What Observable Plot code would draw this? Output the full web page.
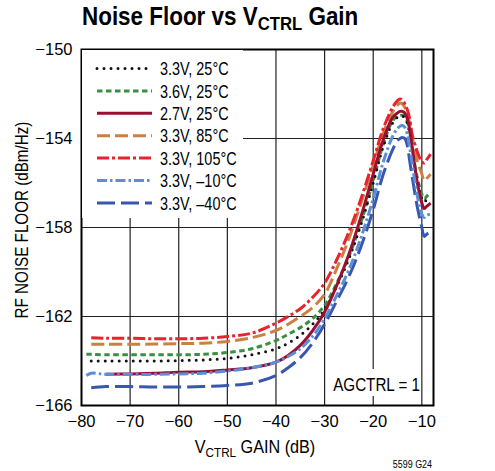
<!DOCTYPE html>
<html>
<head>
<meta charset="utf-8">
<script src="https://cdn.jsdelivr.net/npm/d3@7"></script>
<script src="https://cdn.jsdelivr.net/npm/@observablehq/plot@0.6"></script>
<style>
  body { margin: 0; background: #fff; }
  #chart { width: 495px; height: 471px; }
</style>
</head>
<body>
<div id="chart"></div>
<script>
const FONT = "'Liberation Sans','Arimo',Arial,sans-serif";

// VCTRL gain (dB) sample points
const gain = [-79, -78, -75, -70, -65, -60, -55, -50, -45, -40, -37.5, -35, -32.5, -30, -27.5, -25, -22.5, -20, -18, -16, -15, -14.5, -14, -13.5, -13, -12.5, -12, -11, -10, -9.5, -9, -8.2];

// RF noise floor (dBm/Hz) per condition
const v33_25C  = [null, -164.0, -164.0, -164.0, -164.0, -163.98, -163.95, -163.88, -163.72, -163.45, -163.2, -162.85, -162.35, -161.7, -160.65, -159.4, -157.85, -156.0, -154.4, -153.3, -153.05, -153.0, -153.0, -153.05, -153.3, -153.75, -154.45, -155.8, -156.7, -156.85, -156.75, -156.6];
const v36_25C  = [-163.7, -163.7, -163.72, -163.72, -163.72, -163.72, -163.7, -163.62, -163.45, -163.08, -162.8, -162.5, -162.1, -161.5, -160.5, -159.3, -157.75, -155.9, -154.3, -153.2, -153.0, -152.97, -152.95, -153.0, -153.25, -153.7, -154.4, -155.7, -156.5, -156.7, -156.6, -156.4];
const v27_25C  = [null, null, -164.6, -164.58, -164.55, -164.5, -164.48, -164.4, -164.3, -164.05, -163.75, -163.3, -162.65, -161.8, -160.6, -159.2, -157.5, -155.6, -154.1, -153.05, -152.85, -152.78, -152.78, -152.85, -153.1, -153.6, -154.4, -155.9, -156.9, -157.15, -157.05, -156.9];
const v33_85C  = [null, -163.25, -163.25, -163.25, -163.24, -163.22, -163.2, -163.12, -162.95, -162.63, -162.35, -162.0, -161.6, -161.0, -159.85, -158.5, -156.9, -155.2, -153.8, -152.8, -152.5, -152.4, -152.45, -152.6, -152.9, -153.3, -153.9, -154.95, -155.6, -155.9, -155.8, -155.6];
const v33_105C = [null, -162.95, -162.98, -162.98, -163.0, -163.0, -162.98, -162.9, -162.75, -162.3, -162.0, -161.65, -161.15, -160.5, -159.45, -158.2, -156.7, -155.0, -153.6, -152.6, -152.3, -152.22, -152.28, -152.45, -152.7, -153.1, -153.8, -154.55, -155.05, -155.1, -154.95, -154.7];
const v33_m10C = [-164.65, -164.55, -164.6, -164.6, -164.6, -164.58, -164.55, -164.45, -164.3, -164.05, -163.8, -163.45, -162.9, -162.1, -161.05, -159.9, -158.45, -156.7, -155.1, -153.9, -153.55, -153.45, -153.42, -153.5, -153.8, -154.4, -155.1, -156.5, -157.4, -157.55, -157.45, -157.4];
const v33_m40C = [null, -165.2, -165.15, -165.15, -165.17, -165.17, -165.15, -165.1, -165.0, -164.65, -164.3, -163.85, -163.2, -162.35, -161.3, -160.2, -158.85, -157.2, -155.65, -154.5, -154.1, -154.0, -153.95, -154.0, -154.3, -155.0, -155.7, -157.0, -158.0, -158.4, -158.3, -158.2];

const seriesNames = ["3.3V, 25°C", "3.6V, 25°C", "2.7V, 25°C", "3.3V, 85°C", "3.3V, 105°C", "3.3V, –10°C", "3.3V, –40°C"];
const seriesValues = [v33_25C, v36_25C, v27_25C, v33_85C, v33_105C, v33_m10C, v33_m40C];

const xTicks = [-80, -70, -60, -50, -40, -30, -20, -10];
const yTicks = [-150, -154, -158, -162, -166];

// styles (kept apart from data)
const styles = [
  {stroke: "#111111", dash: "0,7", width: 3, cap: "round"},
  {stroke: "#3a8f43", dash: "5.5,3.5", width: 3, cap: "butt"},
  {stroke: "#990f2f", dash: null, width: 3, cap: "butt"},
  {stroke: "#cc8040", dash: "13,5", width: 3, cap: "butt"},
  {stroke: "#e8232e", dash: "12,3,3,3", width: 3, cap: "butt"},
  {stroke: "#5b8ed6", dash: "10,3,2.5,3", width: 3, cap: "butt"},
  {stroke: "#3858b0", dash: "18,6", width: 3, cap: "butt"}
];

const rows = [];
seriesNames.forEach((name, i) => {
  gain.forEach((g, j) => {
    const v = seriesValues[i][j];
    if (v != null) rows.push({series: name, idx: i, gain: g, nf: v});
  });
});

const drawOrder = [6, 3, 4, 1, 0, 2, 5];

const lineMarks = drawOrder.map(i => Plot.line(rows.filter(r => r.idx === i), {
  x: "gain", y: "nf", curve: "catmull-rom",
  stroke: styles[i].stroke, strokeWidth: styles[i].width,
  strokeDasharray: styles[i].dash, strokeLinecap: styles[i].cap
}));

const chart = Plot.plot({
  width: 495, height: 471,
  marginLeft: 81, marginRight: 62, marginTop: 49, marginBottom: 66,
  style: {fontFamily: FONT, fontSize: "16px", background: "#fff", color: "#000", overflow: "visible"},
  x: {domain: [-80, -7.6]},
  y: {domain: [-166, -150]},
  marks: [
    Plot.gridX(xTicks.slice(1), {stroke: "#222", strokeOpacity: 1, strokeWidth: 1.2}),
    Plot.gridY([-154, -158, -162], {stroke: "#222", strokeOpacity: 1, strokeWidth: 1.2}),
    ...lineMarks,
    Plot.frame({stroke: "#000", strokeWidth: 2}),
    Plot.axisX(xTicks, {tickSize: 0, tickPadding: 10, label: null, fontSize: 16.5}),
    Plot.axisY(yTicks, {tickSize: 0, tickPadding: 9, label: null, fontSize: 16.5})
  ]
});

document.getElementById("chart").appendChild(chart);

const svg = d3.select(chart);

function addText(parent, x, y, k, opts) {
  const t = parent.append("text")
    .attr("transform", `translate(${x},${y})${opts.rotate ? " rotate(" + opts.rotate + ")" : ""} scale(${k},1)`)
    .attr("text-anchor", opts.anchor || "start")
    .attr("font-family", FONT).attr("font-size", opts.size).attr("fill", "#000");
  if (opts.weight) t.attr("font-weight", opts.weight);
  if (opts.dy) t.attr("dy", opts.dy);
  if (opts.text) t.text(opts.text);
  return t;
}

// legend box
const lg = svg.append("g");
lg.append("rect").attr("x", 82).attr("y", 50).attr("width", 161).attr("height", 168).attr("fill", "#fff");
seriesNames.forEach((name, i) => {
  const yy = 68.5 + i * 22.4;
  const s = styles[i];
  lg.append("line").attr("x1", 97).attr("x2", 152).attr("y1", yy).attr("y2", yy)
    .attr("stroke", s.stroke).attr("stroke-width", s.width)
    .attr("stroke-dasharray", s.dash).attr("stroke-linecap", s.cap);
  addText(lg, 160, yy, 0.78, {size: 18.5, dy: "0.36em", text: name});
});

// AGCTRL label
svg.append("rect").attr("x", 330).attr("y", 369).attr("width", 90).attr("height", 27).attr("fill", "#fff");
addText(svg, 420, 391, 0.8, {size: 19, anchor: "end", text: "AGCTRL = 1"});

// title
const t = addText(svg, 82, 25, 0.88, {size: 25.5, weight: "bold"});
t.append("tspan").text("Noise Floor vs V");
t.append("tspan").attr("font-size", 19).attr("dy", 5).text("CTRL");
t.append("tspan").attr("dy", -5).text(" Gain");

// y label
addText(svg, 28, 220, 0.845, {size: 18, anchor: "middle", rotate: -90, text: "RF NOISE FLOOR (dBm/Hz)"});

// x label
const xl = addText(svg, 255, 453, 0.9, {size: 18, anchor: "middle"});
xl.append("tspan").text("V");
xl.append("tspan").attr("font-size", 13).attr("dy", 4).text("CTRL");
xl.append("tspan").attr("dy", -4).text(" GAIN (dB)");

// figure code
addText(svg, 432, 468, 0.85, {size: 10.5, anchor: "end", text: "5599 G24"});
</script>
</body>
</html>
